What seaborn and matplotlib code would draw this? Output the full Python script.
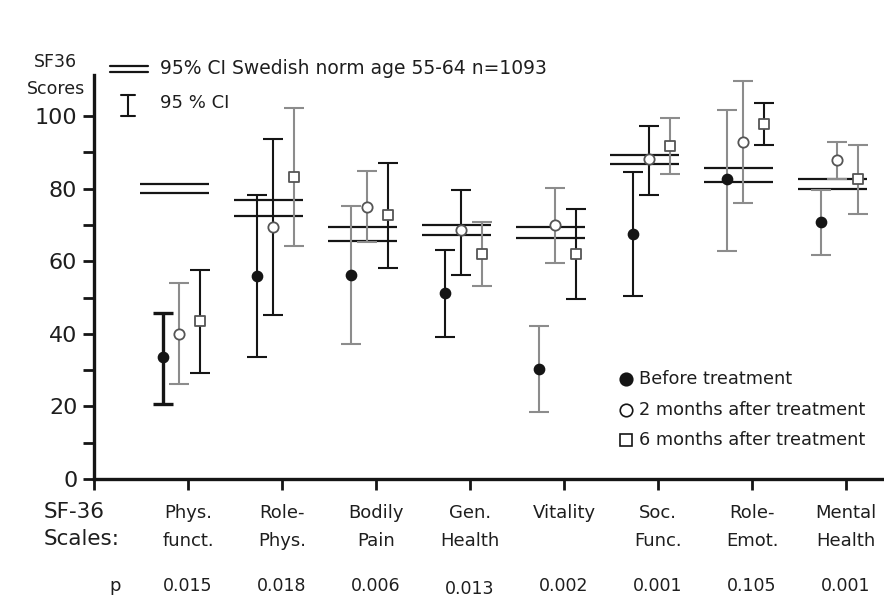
import numpy as np
import pandas as pd
import seaborn as sns
import matplotlib.pyplot as plt
from matplotlib.lines import Line2D

# --- data ---
scales = ['Phys.\nfunct.', 'Role-\nPhys.', 'Bodily\nPain', 'Gen.\nHealth',
          'Vitality', 'Soc.\nFunc.', 'Role-\nEmot.', 'Mental\nHealth']
p_values = ['0.015', '0.018', '0.006', '0.013', '0.002', '0.001', '0.105', '0.001']

before_mean = [33.6, 56.0, 56.2, 51.3, 30.3, 67.6, 82.6, 70.7]
before_lo = [20.6, 33.5, 37.1, 39.1, 18.5, 50.3, 62.7, 61.7]
before_hi = [45.8, 78.1, 75.2, 63.2, 42.1, 84.6, 101.6, 79.7]

m2_mean = [40.0, 69.4, 75.0, 68.6, 70.0, 88.2, 92.8, 88.0]
m2_lo = [26.1, 45.3, 65.2, 56.2, 59.4, 78.3, 76.0, 82.7]
m2_hi = [53.9, 93.6, 84.8, 79.7, 80.3, 97.2, 109.7, 92.9]

m6_mean = [43.5, 83.1, 72.7, 62.1, 62.1, 91.8, 97.9, 82.7]
m6_lo = [29.2, 64.2, 58.2, 53.3, 49.5, 84.0, 92.1, 73.0]
m6_hi = [57.5, 102.3, 87.1, 70.9, 74.5, 99.4, 103.6, 92.0]

norm_lo = [78.9, 72.4, 65.7, 67.2, 66.5, 86.9, 81.9, 79.9]
norm_hi = [81.2, 76.8, 69.4, 70.0, 69.3, 89.2, 85.6, 82.7]

# --- styling ---
W, H = 884, 599
BLACK = '#151515'
GREY = '#8c8c8c'
TXT = '#1e1e1e'
bar_colors = {
    'Before treatment': [BLACK, BLACK, GREY, BLACK, GREY, BLACK, GREY, GREY],
    '2 months after treatment': [GREY, BLACK, GREY, BLACK, GREY, BLACK, GREY, GREY],
    '6 months after treatment': [BLACK, GREY, BLACK, GREY, BLACK, GREY, BLACK, GREY],
}
offsets = {'Before treatment': -0.27, '2 months after treatment': -0.10,
           '6 months after treatment': 0.13}

rows = []
for name, mean, lo, hi in [('Before treatment', before_mean, before_lo, before_hi),
                           ('2 months after treatment', m2_mean, m2_lo, m2_hi),
                           ('6 months after treatment', m6_mean, m6_lo, m6_hi)]:
    for i in range(len(scales)):
        rows.append({'time': name, 'scale': i + 1, 'x': i + 1 + offsets[name],
                     'mean': mean[i], 'lo': lo[i], 'hi': hi[i],
                     'color': bar_colors[name][i]})
df = pd.DataFrame(rows)

sns.set_theme(style='ticks')
plt.rcParams['font.family'] = ['DejaVu Sans']

fig = plt.figure(figsize=(W / 100, H / 100), dpi=100)
ax = fig.add_axes([94 / W, 1 - 479 / H, 1 - 94 / W, (479 - 75) / H])


def fx(px):
    return px / W


def fy(py):
    return 1 - py / H


# norm double lines
for i in range(len(scales)):
    for v in (norm_lo[i], norm_hi[i]):
        ax.plot([i + 1 - 0.51, i + 1 + 0.22], [v, v], color=BLACK, lw=1.6,
                solid_capstyle='butt', zorder=2)

# confidence intervals
for _, r in df.iterrows():
    lw = 2.4 if (r['time'] == 'Before treatment' and r['scale'] == 1) else 1.5
    ax.errorbar(r['x'], r['mean'], yerr=[[r['mean'] - r['lo']], [r['hi'] - r['mean']]],
                fmt='none', ecolor=r['color'], elinewidth=lw, capsize=7, capthick=lw,
                zorder=3)

# point estimates
sns.scatterplot(data=df[df['time'] == 'Before treatment'], x='x', y='mean', ax=ax,
                marker='o', s=55, color=BLACK, edgecolor=BLACK, linewidth=1, zorder=5,
                legend=False)
sns.scatterplot(data=df[df['time'] == '2 months after treatment'], x='x', y='mean', ax=ax,
                marker='o', s=55, color='white', edgecolor='#555555', linewidth=1.3,
                zorder=5, legend=False)
sns.scatterplot(data=df[df['time'] == '6 months after treatment'], x='x', y='mean', ax=ax,
                marker='s', s=48, color='white', edgecolor='#555555', linewidth=1.3,
                zorder=5, legend=False)

ax.set_xlim(0, (W - 94) / 94)
ax.set_ylim(0, (479 - 75) / 3.63)
ax.set_yticks(range(0, 101, 20))
ax.set_yticks(range(10, 101, 20), minor=True)
ax.set_yticklabels([str(v) for v in range(0, 101, 20)], fontsize=16, color=TXT)
ax.set_xticks(range(0, len(scales) + 1))
ax.set_xticklabels([''] + scales, fontsize=13, va='top', linespacing=1.75, color=TXT)
ax.tick_params(axis='both', which='both', direction='out', width=2, length=8, color=BLACK)
ax.tick_params(axis='y', which='major', pad=4)
ax.tick_params(axis='x', pad=10)
ax.set_xlabel('')
ax.set_ylabel('')
for side in ('top', 'right'):
    ax.spines[side].set_visible(False)
for side in ('left', 'bottom'):
    ax.spines[side].set_linewidth(2.4)
    ax.spines[side].set_color(BLACK)

# axis titles
fig.text(fx(55), fy(62), 'SF36', ha='center', va='center', fontsize=12.5, color=TXT)
fig.text(fx(56), fy(89), 'Scores', ha='center', va='center', fontsize=12.5, color=TXT)
fig.text(fx(44), fy(502), 'SF-36\nScales:', ha='left', va='top', fontsize=15.5,
         linespacing=1.45, color=TXT)

# p-values row
fig.text(fx(115), fy(586), 'p', ha='center', va='center', fontsize=13, color=TXT)
for i, p in enumerate(p_values):
    xp = 94 + (i + 1) * 94
    fig.text(fx(xp), fy(586 if i != 3 else 589), p, ha='center', va='center',
             fontsize=12.5, color=TXT)

# top-left legend
for yy in (66, 72):
    fig.add_artist(Line2D([fx(110), fx(148)], [fy(yy), fy(yy)], color=BLACK, lw=1.6))
fig.text(fx(160), fy(68), '95% CI Swedish norm age 55-64 n=1093', ha='left',
         va='center', fontsize=13.5, color=TXT)
fig.add_artist(Line2D([fx(128), fx(128)], [fy(95), fy(116)], color=BLACK, lw=1.5))
for yy in (95, 116):
    fig.add_artist(Line2D([fx(121), fx(135)], [fy(yy), fy(yy)], color=BLACK, lw=1.5))
fig.text(fx(160), fy(103), '95 % CI', ha='left', va='center', fontsize=13, color=TXT)

# bottom-right legend
leg_items = [('o', BLACK, 'Before treatment', 379),
             ('o', 'white', '2 months after treatment', 410),
             ('s', 'white', '6 months after treatment', 440)]
for mk, fc, label, yy in leg_items:
    fig.add_artist(Line2D([fx(626)], [fy(yy)], marker=mk, markersize=9,
                          markerfacecolor=fc, markeredgecolor=BLACK, markeredgewidth=1.2,
                          linestyle='none'))
    fig.text(fx(639), fy(yy), label, ha='left', va='center', fontsize=12.8, color=TXT)

fig.savefig('out.png', dpi=100)
